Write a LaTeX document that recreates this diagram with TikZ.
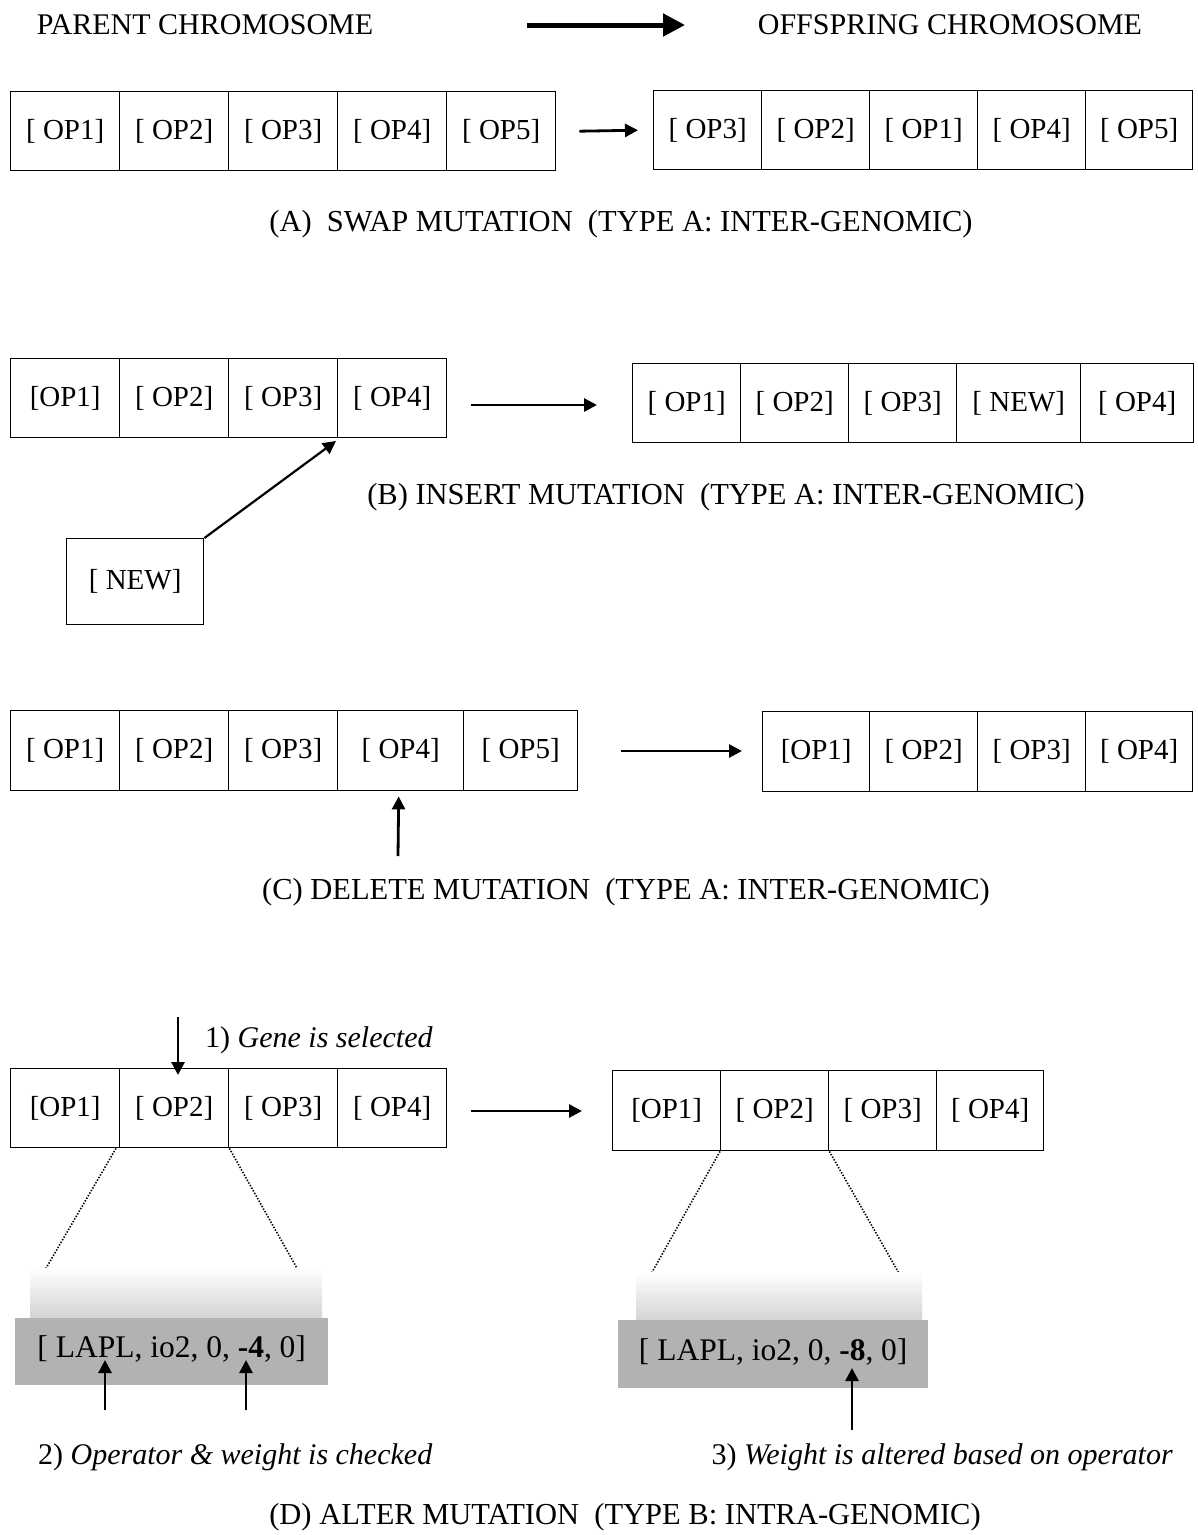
\documentclass[tikz,border=0pt]{standalone}
\usepackage{fontspec}
\setmainfont{Liberation Serif}
\usetikzlibrary{arrows.meta,positioning}
\begin{document}
\begin{tikzpicture}[x=1pt,y=-1pt,
  cell/.style={draw, line width=1.4pt, anchor=north west, inner sep=0pt,
    font=\fontsize{29}{34}\selectfont},
  captxt/.style={font=\fontsize{30}{36}\selectfont, inner sep=0pt},
  mcap/.style={font=\fontsize{30.5}{36}\selectfont, inner sep=0pt},
  lab/.style={font=\fontsize{30}{36}\selectfont, inner sep=0pt},
  arr/.style={line width=2.8pt, -{Triangle[length=13pt,width=13pt]}},
  bigarr/.style={line width=5pt, -{Triangle[length=22pt,width=22pt]}},
  dots/.style={line width=1.6pt, dash pattern=on 1.4pt off 1.6pt},
  graybox/.style={fill=black!30, anchor=north west, inner sep=0pt,
    font=\fontsize{31.5}{36}\selectfont}
]
\useasboundingbox (0,0) rectangle (1198,1535);

% titles
\node[captxt] (tp) at (205,25) {PARENT CHROMOSOME};
\node[captxt] (to) at (950,25) {OFFSPRING CHROMOSOME};
\coordinate (ta1) at (527,25);
\coordinate (ta2) at (685,25);
\draw[bigarr] (ta1) -- (ta2);

% ---------- (A) ----------
\node[cell, minimum width=109pt, minimum height=79pt] (a1) at (10,91) {[ OP1]};
\node[cell, minimum width=109pt, minimum height=79pt] (a2) at (119,91) {[ OP2]};
\node[cell, minimum width=109pt, minimum height=79pt] (a3) at (228,91) {[ OP3]};
\node[cell, minimum width=109pt, minimum height=79pt] (a4) at (337,91) {[ OP4]};
\node[cell, minimum width=109pt, minimum height=79pt] (a5) at (446,91) {[ OP5]};
\node[cell, minimum width=108pt, minimum height=79pt] (b1) at (653,90) {[ OP3]};
\node[cell, minimum width=108pt, minimum height=79pt] (b2) at (761,90) {[ OP2]};
\node[cell, minimum width=108pt, minimum height=79pt] (b3) at (869,90) {[ OP1]};
\node[cell, minimum width=108pt, minimum height=79pt] (b4) at (977,90) {[ OP4]};
\node[cell, minimum width=107pt, minimum height=79pt] (b5) at (1085,90) {[ OP5]};
\draw[arr] ([xshift=23pt]a5.east) -- ([xshift=-15pt]b1.west);
\node[mcap] (capA) at (621,224) {(A)\ \ SWAP MUTATION\ \ (TYPE A: INTER-GENOMIC)};

% ---------- (B) ----------
\node[cell, minimum width=109pt, minimum height=79pt] (c1) at (10,358) {[OP1]};
\node[cell, minimum width=109pt, minimum height=79pt] (c2) at (119,358) {[ OP2]};
\node[cell, minimum width=109pt, minimum height=79pt] (c3) at (228,358) {[ OP3]};
\node[cell, minimum width=109pt, minimum height=79pt] (c4) at (337,358) {[ OP4]};
\node[cell, minimum width=108pt, minimum height=79pt] (d1) at (632,363) {[ OP1]};
\node[cell, minimum width=108pt, minimum height=79pt] (d2) at (740,363) {[ OP2]};
\node[cell, minimum width=108pt, minimum height=79pt] (d3) at (848,363) {[ OP3]};
\node[cell, minimum width=124pt, minimum height=79pt] (d4) at (956,363) {[ NEW]};
\node[cell, minimum width=113pt, minimum height=79pt] (d5) at (1080,363) {[ OP4]};
\draw[arr] ([xshift=24pt]c4.east |- 0,405) -- ([xshift=-35pt]d1.west |- 0,405);
\node[mcap] (capB) at (726,497) {(B) INSERT MUTATION\ \ (TYPE A: INTER-GENOMIC)};
\node[cell, minimum width=137pt, minimum height=86pt] (new) at (66,538) {[ NEW]};
\coordinate (ins) at (336,441);
\draw[arr, line width=2.2pt] (new.north east) -- (ins);

% ---------- (C) ----------
\node[cell, minimum width=109pt, minimum height=80pt] (e1) at (10,710) {[ OP1]};
\node[cell, minimum width=109pt, minimum height=80pt] (e2) at (119,710) {[ OP2]};
\node[cell, minimum width=109pt, minimum height=80pt] (e3) at (228,710) {[ OP3]};
\node[cell, minimum width=126pt, minimum height=80pt] (e4) at (337,710) {[ OP4]};
\node[cell, minimum width=114pt, minimum height=80pt] (e5) at (463,710) {[ OP5]};
\node[cell, minimum width=107pt, minimum height=80pt] (f1) at (762,711) {[OP1]};
\node[cell, minimum width=108pt, minimum height=80pt] (f2) at (869,711) {[ OP2]};
\node[cell, minimum width=108pt, minimum height=80pt] (f3) at (977,711) {[ OP3]};
\node[cell, minimum width=107pt, minimum height=80pt] (f4) at (1085,711) {[ OP4]};
\draw[arr] ([xshift=43pt]e5.east |- 0,751) -- ([xshift=-20pt]f1.west |- 0,751);
\coordinate (del) at (398,856);
\draw[arr] (del) -- ([xshift=-2pt,yshift=-5pt]e4.south);
\node[mcap] (capC) at (626,892) {(C) DELETE MUTATION\ \ (TYPE A: INTER-GENOMIC)};

% ---------- (D) ----------
\node[cell, minimum width=109pt, minimum height=79pt] (g1) at (10,1068) {[OP1]};
\node[cell, minimum width=109pt, minimum height=79pt] (g2) at (119,1068) {[ OP2]};
\node[cell, minimum width=109pt, minimum height=79pt] (g3) at (228,1068) {[ OP3]};
\node[cell, minimum width=109pt, minimum height=79pt] (g4) at (337,1068) {[ OP4]};
\node[cell, minimum width=108pt, minimum height=80pt] (h1) at (612,1070) {[OP1]};
\node[cell, minimum width=108pt, minimum height=80pt] (h2) at (720,1070) {[ OP2]};
\node[cell, minimum width=108pt, minimum height=80pt] (h3) at (828,1070) {[ OP3]};
\node[cell, minimum width=107pt, minimum height=80pt] (h4) at (936,1070) {[ OP4]};
\draw[arr] ([xshift=24pt]g4.east |- 0,1111) -- ([xshift=-30pt]h1.west |- 0,1111);
\coordinate (sel) at (178,1017);
\draw[arr] (sel) -- ([yshift=-7pt]sel |- g2.north);
\node[lab, anchor=west] (l1) at (205,1040) {1) \textit{Gene is selected}};

% zoom fans
\coordinate (zl1) at (35,1287);
\coordinate (zl2) at (298,1270);
\coordinate (zr1) at (642,1290);
\coordinate (zr2) at (900,1275);
\draw[dots] ([xshift=-3pt]g2.south west) -- (zl1);
\draw[dots] (g2.south east) -- (zl2);
\draw[dots] (h2.south west) -- (zr1);
\draw[dots] (h2.south east) -- (zr2);

% gray gene boxes
\shade[top color=white, bottom color=black!17] (30,1268) rectangle (322,1318);
\shade[top color=white, bottom color=black!17] (636,1272) rectangle (922,1320);
\node[graybox, minimum width=313pt, minimum height=67pt] (gl) at (15,1318)
  {\raisebox{-6pt}[0pt][0pt]{[ LAPL, io2, 0, \textbf{-4}, 0]}};
\node[graybox, minimum width=310pt, minimum height=68pt] (gr) at (618,1320)
  {\raisebox{-6pt}[0pt][0pt]{[ LAPL, io2, 0, \textbf{-8}, 0]}};
\coordinate (p1) at (105,1410);
\coordinate (p2) at (246,1410);
\coordinate (p3) at (852,1430);
\draw[arr] (p1) -- (p1 |- 0,1360);
\draw[arr] (p2) -- (p2 |- 0,1360);
\draw[arr] (p3) -- (p3 |- 0,1368);

\node[lab, anchor=west] (l2) at (38,1457) {2) \textit{Operator \& weight is checked}};
\node[lab, anchor=east] (l3) at (1173,1457) {3) \textit{Weight is altered based on operator}};
\node[mcap] (capD) at (625,1517) {(D) ALTER MUTATION\ \ (TYPE B: INTRA-GENOMIC)};
\end{tikzpicture}
\end{document}
